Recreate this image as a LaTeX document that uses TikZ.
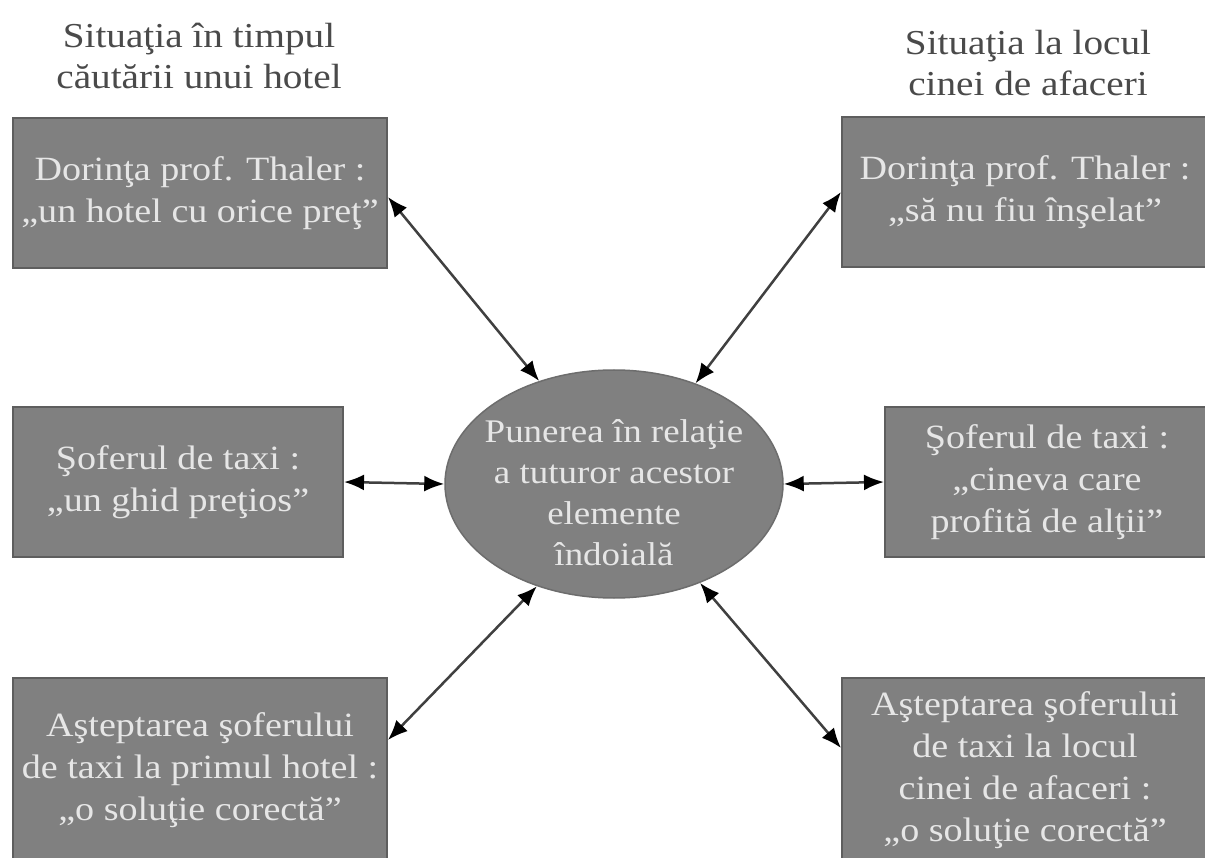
\documentclass[tikz,border=0pt]{standalone}
\usepackage{fontspec}
\setmainfont[FakeStretch=1.12]{Liberation Serif}
\usetikzlibrary{arrows.meta,shapes.geometric,calc}
\definecolor{boxgray}{HTML}{808080}
\definecolor{boxedge}{HTML}{5E5E5E}
\definecolor{boxtext}{HTML}{E6E6E6}
\definecolor{headtext}{HTML}{4A4A4A}
\definecolor{linegray}{HTML}{404040}
\tikzset{
  gbox/.style={rectangle, fill=boxgray, draw=boxedge, line width=2pt, text=boxtext,
    align=center, inner sep=0pt, font=\fontsize{34}{42}\selectfont},
  gell/.style={ellipse, fill=boxgray, draw=boxgray!85!black, line width=1.5pt, text=boxtext,
    align=center, inner xsep=-25pt, inner ysep=-20pt, font=\fontsize{33}{41}\selectfont},
  headtxt/.style={text=headtext, align=center, font=\fontsize{35}{41}\selectfont},
  link/.style={draw=linegray, line width=2.5pt,
    {Latex[length=20pt,width=16pt,color=black]}-{Latex[length=20pt,width=16pt,color=black]}}
}
\begin{document}
\begin{tikzpicture}[x=1pt,y=-1pt]
\useasboundingbox (0,0) rectangle (1205,858);
\fill[white] (0,0) rectangle (1205,858);

\node[headtxt] (h1) at (199,56) {Situaţia în timpul\\căutării unui hotel};
\node[headtxt] (h2) at (1028,63) {Situaţia la locul\\cinei de afaceri};

\node[gbox, minimum width=374pt, minimum height=150pt] (tl) at (200,193)
  {Dorinţa prof. Thaler :\\„un hotel cu orice preţ”};
\node[gbox, minimum width=366pt, minimum height=150pt] (tr) at (1025,192)
  {Dorinţa prof. Thaler :\\„să nu fiu înşelat”};
\node[gbox, minimum width=330pt, minimum height=150pt] (ml) at (178,482)
  {Şoferul de taxi :\\„un ghid preţios”};
\node[gbox, minimum width=324pt, minimum height=150pt] (mr) at (1047,482)
  {Şoferul de taxi :\\„cineva care\\profită de alţii”};
\node[gbox, minimum width=374pt, minimum height=184pt] (bl) at (200,770)
  {Aşteptarea şoferului\\de taxi la primul hotel :\\„o soluţie corectă”};
\node[gbox, minimum width=366pt, minimum height=184pt] (br) at (1025,770)
  {Aşteptarea şoferului\\de taxi la locul\\cinei de afaceri :\\„o soluţie corectă”};

\node[gell, minimum width=338pt, minimum height=228pt] (c) at (614,484)
  {\rule{0pt}{40pt}Punerea în relaţie\\a tuturor acestor\\elemente\\îndoială};

\draw[link] ([yshift=-4pt]tl.east) -- (c.126);
\draw[link] (tr.west) -- (c.51);
\draw[link] (ml.east) -- (c.west);
\draw[link] (c.east) -- (mr.west);
\draw[link] ([yshift=30pt]bl.east) -- (c.233);
\draw[link] ([yshift=22pt]br.west) -- (c.311);
\end{tikzpicture}
\end{document}
